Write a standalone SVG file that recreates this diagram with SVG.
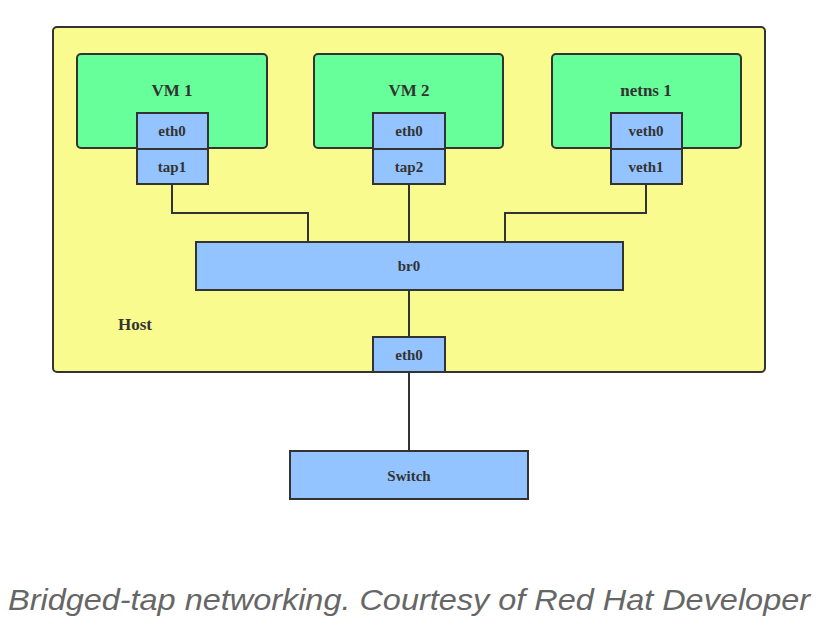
<svg xmlns="http://www.w3.org/2000/svg" width="822" height="635" viewBox="0 0 822 635">
<style>
.host{fill:#f9fb8f;stroke:#333;stroke-width:2}
.vm{fill:#66ff99;stroke:#333;stroke-width:2}
.nic{fill:#94c4ff;stroke:#333;stroke-width:2}
.wire{fill:none;stroke:#333;stroke-width:2}
.big{font-family:"Liberation Serif",serif;font-weight:bold;font-size:17px;fill:#333;text-anchor:middle;dominant-baseline:central}
.small{font-family:"Liberation Serif",serif;font-weight:bold;font-size:15px;fill:#333;text-anchor:middle;dominant-baseline:central}
.cap{font-family:"Liberation Sans",Arial,sans-serif;font-style:italic;font-size:30px;fill:#666}
</style>
<rect width="822" height="635" fill="#fff"/>
<g id="host">
<rect class="host" x="53" y="27" width="712" height="345" rx="4"/>
<text class="big" x="135" y="324">Host</text>
</g>
<g id="connectors">
<polyline class="wire" points="172,184 172,213 308,213 308,242"/>
<line class="wire" x1="409" y1="184" x2="409" y2="242"/>
<polyline class="wire" points="646,184 646,213 505,213 505,242"/>
<line class="wire" x1="409" y1="290" x2="409" y2="337"/>
<line class="wire" x1="409" y1="372" x2="409" y2="451"/>
</g>
<g id="vm1">
<rect class="vm" x="77" y="54" width="190" height="94" rx="4"/>
<text class="big" x="172" y="90">VM 1</text>
</g>
<g id="vm1-eth0">
<rect class="nic" x="137" y="113" width="71" height="36"/>
<text class="small" x="172" y="131">eth0</text>
</g>
<g id="tap1">
<rect class="nic" x="137" y="149" width="71" height="35"/>
<text class="small" x="172" y="167">tap1</text>
</g>
<g id="vm2">
<rect class="vm" x="314" y="54" width="189" height="94" rx="4"/>
<text class="big" x="409" y="90">VM 2</text>
</g>
<g id="vm2-eth0">
<rect class="nic" x="373" y="113" width="72" height="36"/>
<text class="small" x="409" y="131">eth0</text>
</g>
<g id="tap2">
<rect class="nic" x="373" y="149" width="72" height="35"/>
<text class="small" x="409" y="167">tap2</text>
</g>
<g id="netns1">
<rect class="vm" x="552" y="54" width="189" height="94" rx="4"/>
<text class="big" x="646" y="90">netns 1</text>
</g>
<g id="veth0">
<rect class="nic" x="611" y="113" width="71" height="36"/>
<text class="small" x="646" y="131">veth0</text>
</g>
<g id="veth1">
<rect class="nic" x="611" y="149" width="71" height="35"/>
<text class="small" x="646" y="167">veth1</text>
</g>
<g id="br0">
<rect class="nic" x="196" y="242" width="427" height="48"/>
<text class="small" x="409" y="266">br0</text>
</g>
<g id="host-eth0">
<rect class="nic" x="373" y="337" width="72" height="35"/>
<text class="small" x="409" y="355">eth0</text>
</g>
<g id="switch">
<rect class="nic" x="290" y="451" width="238" height="48"/>
<text class="small" x="409" y="476">Switch</text>
</g>
<text class="cap" x="8" y="610" textLength="802" lengthAdjust="spacingAndGlyphs">Bridged-tap networking. Courtesy of Red Hat Developer</text>
</svg>
